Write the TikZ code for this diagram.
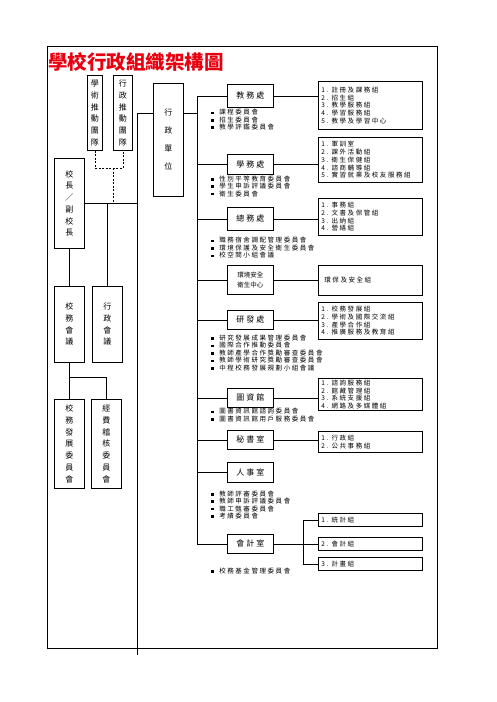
\documentclass[tikz,border=0pt]{standalone}
\usepackage{fontspec}
\newfontfamily\cjk{Noto Sans CJK TC}
\newfontfamily\cjksp[LetterSpace=24]{Noto Sans CJK TC}
\definecolor{titlered}{RGB}{232,0,16}
\newcommand\bl{\rule[0.6pt]{2.6pt}{2.6pt}\hspace{5.5pt}}
\tikzset{
  box/.style={draw, line width=0.8pt, inner sep=0pt, anchor=north west},
  office/.style={box, minimum width=46pt, font=\cjksp\fontsize{8}{10}\selectfont},
  group/.style={box, minimum width=104pt, text width=98pt, align=left, font=\cjksp\fontsize{6.5}{7.7}\selectfont},
  vert/.style={box, align=center, font=\cjk\fontsize{8}{11.7}\selectfont},
  bullets/.style={anchor=north west, inner sep=0pt, align=left, font=\cjksp\fontsize{6.5}{7.4}\selectfont},
  conn/.style={line width=0.75pt},
  dashline/.style={line width=0.75pt, dash pattern=on 2pt off 1.5pt}
}
\begin{document}
\begin{tikzpicture}[x=1pt,y=-1pt]
\useasboundingbox (0,0) rectangle (496,702);
% frame
\node[box, minimum width=390pt, minimum height=602pt] (frame) at (47,46) {};
% title
\node[font=\cjk\bfseries\fontsize{19.5}{20}\selectfont, text=titlered, inner sep=0pt] (title) at (136,62) {學校行政組織架構圖};

% left column
\node[vert, minimum width=15pt, minimum height=75pt] (xs) at (87,75) {學\\術\\推\\動\\團\\隊};
\node[vert, minimum width=19pt, minimum height=75pt] (xt) at (113,75) {行\\政\\推\\動\\團\\隊};
\node[vert, minimum width=30pt, minimum height=90pt] (pr) at (54,158) {校\\長\\／\\副\\校\\長};
\node[vert, minimum width=30pt, minimum height=76pt] (sw) at (54,286) {校\\務\\會\\議};
\node[vert, minimum width=30pt, minimum height=76pt] (xh) at (92,286) {行\\政\\會\\議};
\node[vert, minimum width=30pt, minimum height=89pt] (fz) at (54,399) {校\\務\\發\\展\\委\\員\\會};
\node[vert, minimum width=30pt, minimum height=89pt] (jf) at (91,399) {經\\費\\稽\\核\\委\\員\\會};
\node[vert, minimum width=30pt, minimum height=113pt, font=\cjk\fontsize{8}{18}\selectfont] (xz) at (153,83) {行\\政\\單\\位};

\coordinate (vtop) at (137,113);
\coordinate (vbot) at (137,655);
\coordinate (dm) at (113,168);
\coordinate (br) at (69,377);
\draw[conn] (vbot) -- (vtop) -- (xz.west |- vtop);
\draw[dashline] (xs.south) |- (dm) -| (xt.south);
\draw[dashline] (dm) -- (dm |- pr.east);
\draw[conn] (pr.east) -- (pr.east -| vtop);
\draw[conn] (xh.north) -- (xh.north |- pr.east);
\draw[conn] (pr.south) -- (sw.north);
\draw[conn] (sw.south) -- (fz.north);
\draw[conn] (br) -| (jf.north);

% offices
\node[office, minimum height=23pt] (jw) at (227,84) {教務處};
\node[office, minimum height=20pt] (xw) at (227,154) {學務處};
\node[office, minimum height=23pt] (zw) at (227,207) {總務處};
\node[office, minimum height=29pt, font=\cjk\fontsize{6.5}{10}\selectfont, align=center] (hj) at (227,265) {環境安全\\衛生中心};
\node[office, minimum height=19pt] (yf) at (227,310) {研發處};
\node[office, minimum height=19pt] (tz) at (227,388) {圖資館};
\node[office, minimum height=19pt] (ms) at (227,430) {秘書室};
\node[office, minimum height=20pt] (rs) at (227,462) {人事室};
\node[office, minimum height=19pt] (kj) at (227,534) {會計室};

% spine
\coordinate (spT) at (197,95.5);
\coordinate (spA) at (197,113);
\coordinate (spB) at (197,543.5);
\draw[conn] (spT) -- (spB);
\draw[conn] (xz.east |- spA) -- (spA);
\foreach \o in {jw,xw,zw,hj,yf,tz,ms,rs,kj}{
  \draw[conn] (\o.west) -- (\o.west -| spT);
}

% groups
\node[group, minimum height=48pt] (g1) at (318,81) {1. 註冊及課務組\\2. 招生組\\3. 教學服務組\\4. 學習服務組\\5. 教學及學習中心};
\node[group, minimum height=45pt] (g2) at (318,137) {1. 軍訓室\\2. 課外活動組\\3. 衛生保健組\\4. 諮商輔導組\\5. 實習就業及校友服務組};
\node[group, minimum height=37pt] (g3) at (318,198) {1. 事務組\\2. 文書及保管組\\3. 出納組\\4. 營繕組};
\node[group, minimum height=30pt] (g4) at (318,265) {\hspace*{3pt}環保及安全組};
\node[group, minimum height=37pt] (g5) at (318,302) {1. 校務發展組\\2. 學術及國際交流組\\3. 產學合作組\\4. 推廣服務及教育組};
\node[group, minimum height=32pt] (g6) at (318,378) {1. 諮詢服務組\\2. 館藏管理組\\3. 系統支援組\\4. 網路及多媒體組};
\node[group, minimum height=21pt] (g7) at (318,431) {1. 行政組\\2. 公共事務組};
\node[group, minimum height=13pt] (a1) at (318,513) {1. 統計組};
\node[group, minimum height=13pt] (a2) at (318,537) {2. 會計組};
\node[group, minimum height=13pt] (a3) at (318,557) {3. 計畫組};

\draw[conn] (jw.east) -- (jw.east -| g1.west);
\draw[conn] (xw.east) -- (xw.east -| g2.west);
\draw[conn] (zw.east) -- (zw.east -| g3.west);
\draw[conn] (hj.east) -- (hj.east -| g4.west);
\draw[conn] (yf.east) -- (yf.east -| g5.west);
\draw[conn] (tz.east) -- (tz.east -| g6.west);
\draw[conn] (ms.east) -- (ms.east -| g7.west);

\coordinate (acc) at (303,543.5);
\draw[conn] (kj.east) -- (a2.west);
\draw[conn] (a1.west) -- (a1.west -| acc) -- (a3.west -| acc) -- (a3.west);

% committee lists
\node[bullets] (b1) at (211,109.2) {\bl 課程委員會\\\bl 招生委員會\\\bl 教學評鑑委員會};
\node[bullets] (b2) at (211,175.5) {\bl 性別平等教育委員會\\\bl 學生申訴評議委員會\\\bl 衛生委員會};
\node[bullets] (b3) at (211,237.2) {\bl 職務宿舍調配管理委員會\\\bl 環境保護及安全衛生委員會\\\bl 校空間小組會議};
\node[bullets] (b4) at (211,334.8) {\bl 研究發展成果管理委員會\\\bl 國際合作推動委員會\\\bl 教師產學合作獎勵審查委員會\\\bl 教師學術研究獎勵審查委員會\\\bl 中程校務發展規劃小組會議};
\node[bullets] (b5) at (211,408.2) {\bl 圖書資訊館諮詢委員會\\\bl 圖書資訊館用戶服務委員會};
\node[bullets] (b6) at (211,490.5) {\bl 教師評審委員會\\\bl 教師申訴評議委員會\\\bl 職工甄審委員會\\\bl 考績委員會};
\node[bullets] (b7) at (211,567.5) {\bl 校務基金管理委員會};
\end{tikzpicture}
\end{document}
